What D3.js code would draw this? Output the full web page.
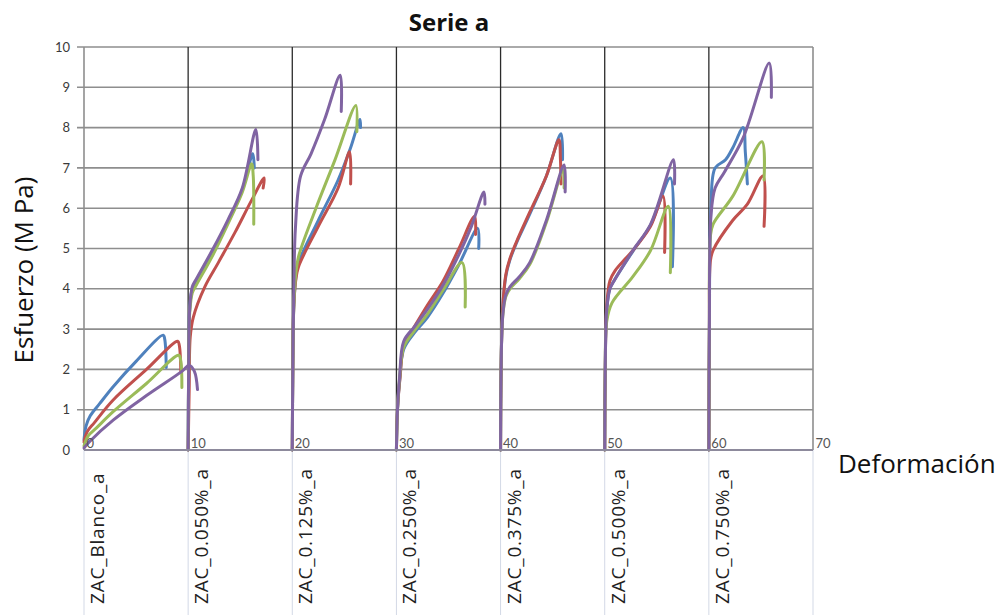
<!DOCTYPE html>
<html>
<head>
<meta charset="utf-8">
<script src="https://cdn.jsdelivr.net/npm/d3@7"></script>
<style>
  html, body { margin: 0; padding: 0; background: #fff; }
  svg { display: block; }
  text { font-family: "Open Sans", Lato, sans-serif; }
</style>
</head>
<body>
<svg id="chart" width="1001" height="615"></svg>
<script>
// Stress-strain curves, four specimens per ZAC formulation, each group shifted by 10 on the strain axis.
const categories = ["ZAC_Blanco_a", "ZAC_0.050%_a", "ZAC_0.125%_a", "ZAC_0.250%_a",
                    "ZAC_0.375%_a", "ZAC_0.500%_a", "ZAC_0.750%_a"];
const xTicks = [0, 10, 20, 30, 40, 50, 60, 70];
const yTicks = [0, 1, 2, 3, 4, 5, 6, 7, 8, 9, 10];
const specimens = ["Probeta 1", "Probeta 2", "Probeta 3", "Probeta 4"];

// [deformación, esfuerzo] for specimens 1..4 of each formulation
const zacBlanco = [
  [[0,0.25],[0.2,0.6],[0.6,0.85],[1.5,1.15],[2.8,1.57],[5,2.2],[7.6,2.85],[7.75,2.75],[7.9,2.05]],
  [[0,0.2],[0.3,0.45],[1,0.68],[2.8,1.24],[6,2.0],[9.0,2.7],[9.15,2.6],[9.3,1.95]],
  [[0,0.1],[0.4,0.35],[1.2,0.55],[2.8,0.95],[6,1.65],[9.1,2.35],[9.3,2.2],[9.4,1.55]],
  [[0,0.05],[0.5,0.2],[2.8,0.74],[6,1.35],[9.4,1.95],[10.1,2.1],[10.6,1.95],[10.9,1.5]]
];
const zac050 = [
  [[10,0],[10.05,2],[10.15,3.5],[10.4,4.0],[10.8,4.2],[12.3,4.9],[13.8,5.65],[15.2,6.45],[16.2,7.35],[16.35,7.0]],
  [[10,0],[10.1,1.5],[10.2,2.8],[10.5,3.3],[11.6,4.05],[12.9,4.65],[14.5,5.4],[16.1,6.2],[17.3,6.75],[17.2,6.5]],
  [[10,0],[10.05,2],[10.15,3.4],[10.4,3.9],[10.8,4.1],[12.3,4.8],[13.8,5.6],[15.2,6.4],[16.1,7.1],[16.25,6.8],[16.3,5.6]],
  [[10,0],[10.05,2],[10.15,3.5],[10.4,4.05],[10.8,4.25],[12.3,4.95],[13.8,5.7],[15.2,6.5],[16.5,7.95],[16.7,7.2]]
];
const zac125 = [
  [[20,0],[20.05,2],[20.15,3.6],[20.35,4.3],[20.6,4.65],[22.5,5.7],[24.4,6.7],[25.6,7.5],[26.5,8.2],[26.55,8.0]],
  [[20,0],[20.05,2],[20.15,3.6],[20.35,4.25],[20.6,4.55],[22.5,5.55],[24.4,6.5],[25.5,7.4],[25.6,6.6]],
  [[20,0],[20.05,2],[20.15,3.6],[20.35,4.4],[20.6,4.8],[22.2,5.95],[24.1,7.2],[26.1,8.55],[26.2,7.9]],
  [[20,0],[20.05,2],[20.15,4.0],[20.3,5.5],[20.8,6.8],[21.8,7.35],[23.1,8.2],[24.6,9.3],[24.7,8.4]]
];
const zac250 = [
  [[30,0],[30.1,1.0],[30.3,1.7],[30.7,2.5],[31.7,2.9],[33,3.3],[34.5,3.9],[36,4.6],[37.8,5.5],[37.9,5.0]],
  [[30,0],[30.1,1.0],[30.35,1.8],[30.75,2.65],[31.7,3.05],[33,3.6],[34.5,4.2],[36,5.0],[37.5,5.8],[37.6,5.35]],
  [[30,0],[30.1,1.0],[30.3,1.75],[30.7,2.55],[31.7,2.95],[33,3.38],[34.5,3.98],[36.3,4.65],[36.6,3.55]],
  [[30,0],[30.1,1.0],[30.3,1.8],[30.7,2.7],[31.7,3.05],[33,3.5],[34.5,4.1],[36,4.85],[37.2,5.55],[38.4,6.4],[38.5,6.1]]
];
const zac375 = [
  [[40,0],[40.05,2],[40.2,3.5],[40.5,4.3],[40.9,4.72],[41.5,5.12],[42.8,5.85],[44.4,6.8],[45.8,7.85],[45.95,7.2]],
  [[40,0],[40.05,2],[40.2,3.5],[40.5,4.35],[40.9,4.75],[41.5,5.15],[42.8,5.9],[44.4,6.8],[45.6,7.7],[45.75,7.2],[45.8,6.6]],
  [[40,0],[40.05,2],[40.2,3.3],[40.5,3.8],[40.9,4.0],[41.8,4.25],[42.8,4.6],[44.4,5.65],[46.0,6.95],[46.1,6.5]],
  [[40,0],[40.05,2],[40.2,3.3],[40.5,3.85],[40.9,4.05],[41.8,4.3],[42.8,4.65],[44.4,5.7],[46.1,7.07],[46.2,6.4]]
];
const zac500 = [
  [[50,0],[50.05,2],[50.2,3.5],[50.5,4.0],[50.9,4.2],[52.7,4.93],[54.4,5.58],[56.3,6.75],[56.5,4.55]],
  [[50,0],[50.05,2],[50.2,3.6],[50.5,4.2],[51,4.45],[52,4.75],[52.7,4.95],[54.4,5.55],[55.6,6.3],[55.75,4.9]],
  [[50,0],[50.05,2],[50.2,3.2],[50.7,3.65],[52.7,4.3],[54.4,4.95],[56.1,6.05],[56.3,4.4]],
  [[50,0],[50.05,2],[50.2,3.5],[50.5,4.0],[50.9,4.2],[52.7,4.95],[54.4,5.6],[56.6,7.2],[56.7,6.6]]
];
const zac750 = [
  [[60,0],[60.05,3],[60.2,6],[60.6,7.0],[61.6,7.2],[62.3,7.5],[63.3,8.0],[63.5,7.4],[63.7,6.6]],
  [[60,0],[60.05,3],[60.15,4.7],[60.4,4.95],[62.3,5.7],[63.7,6.1],[65.2,6.8],[65.3,5.55]],
  [[60,0],[60.05,3],[60.15,5.3],[60.4,5.6],[62.3,6.3],[65.1,7.65],[65.3,6.7]],
  [[60,0],[60.05,3],[60.2,5.8],[60.6,6.5],[61.5,6.9],[63.3,7.75],[65.8,9.6],[66.0,8.75]]
];
const groups = [zacBlanco, zac050, zac125, zac250, zac375, zac500, zac750];

// Styling
const colors = ["#4f81bd", "#c0504d", "#9bbb59", "#8064a2"];
const svg = d3.select("#chart");
const x = d3.scaleLinear().domain([0, 70]).range([84, 813]);
const y = d3.scaleLinear().domain([0, 10]).range([450, 47]);

// Title
svg.append("text").attr("x", 449).attr("y", 31).attr("text-anchor", "middle")
  .style("font-size", "24px").style("font-weight", "bold").attr("fill", "#111")
  .text("Serie a");

// Category separators below the plot
svg.append("g").selectAll("line").data(xTicks).join("line")
  .attr("x1", d => x(d)).attr("x2", d => x(d))
  .attr("y1", y(0)).attr("y2", 615)
  .attr("stroke", "#d3d9e6").attr("stroke-width", 1);

// Horizontal gridlines
svg.append("g").selectAll("line").data(yTicks.slice(1)).join("line")
  .attr("x1", x(0) - 7).attr("x2", x(70))
  .attr("y1", d => y(d)).attr("y2", d => y(d))
  .attr("stroke", "#8e8e8e").attr("stroke-width", 1.6);

// Vertical group dividers
svg.append("g").selectAll("line").data(xTicks.slice(1, -1)).join("line")
  .attr("x1", d => x(d)).attr("x2", d => x(d))
  .attr("y1", y(10)).attr("y2", y(0))
  .attr("stroke", "#2b2b2b").attr("stroke-width", 1.3);

// Left and right frame
svg.append("g").selectAll("line").data([0, 70]).join("line")
  .attr("x1", d => x(d)).attr("x2", d => x(d))
  .attr("y1", y(10)).attr("y2", y(0))
  .attr("stroke", "#8e8e8e").attr("stroke-width", 1.6);

// Y axis labels
const yAxis = d3.axisLeft(y).tickValues(yTicks).tickSize(0).tickPadding(14);
const yg = svg.append("g").attr("transform", `translate(${x(0)},0)`).call(yAxis);
yg.select(".domain").remove();
yg.selectAll("text").style("font-size", "13px").style("font-family", "Lato, sans-serif").attr("fill", "#3a3a3a");

// Curves
const line = d3.line().x(d => x(d[0])).y(d => y(d[1])).curve(d3.curveCatmullRom.alpha(0.5));
const curves = svg.append("g");
specimens.forEach((s, si) => {
  groups.forEach(g => {
    curves.append("path").datum(g[si]).attr("d", line)
      .attr("fill", "none").attr("stroke", colors[si])
      .attr("stroke-width", 3).attr("stroke-linejoin", "round").attr("stroke-linecap", "round");
  });
});

// X axis line
svg.append("line").attr("x1", x(0)).attr("x2", x(70)).attr("y1", y(0)).attr("y2", y(0))
  .attr("stroke", "#8d8a9c").attr("stroke-width", 2);

// X tick labels, sitting just right of each divider
const xAxis = d3.axisBottom(x).tickValues(xTicks).tickSize(0).tickPadding(0);
const xg = svg.append("g").attr("transform", `translate(0,${y(0)})`).call(xAxis);
xg.select(".domain").remove();
xg.selectAll("text").attr("text-anchor", "start").attr("x", 2).attr("y", -2).attr("dy", 0)
  .style("font-size", "13px").style("font-family", "Lato, sans-serif").attr("fill", "#555");

// Category labels
svg.append("g").selectAll("text").data(categories).join("text")
  .attr("transform", (d, i) => `translate(${x(xTicks[i]) + 20},604) rotate(-90)`)
  .attr("text-anchor", "start")
  .style("font-size", "19px").style("letter-spacing", "0.8px").attr("fill", "#222")
  .text(d => d);

// Axis titles
svg.append("text").attr("transform", "translate(33,270) rotate(-90)")
  .attr("text-anchor", "middle").style("font-size", "26px").attr("fill", "#111")
  .text("Esfuerzo (M Pa)");
svg.append("text").attr("x", 838).attr("y", 473)
  .style("font-size", "26px").attr("fill", "#111")
  .text("Deformación");
</script>
</body>
</html>
